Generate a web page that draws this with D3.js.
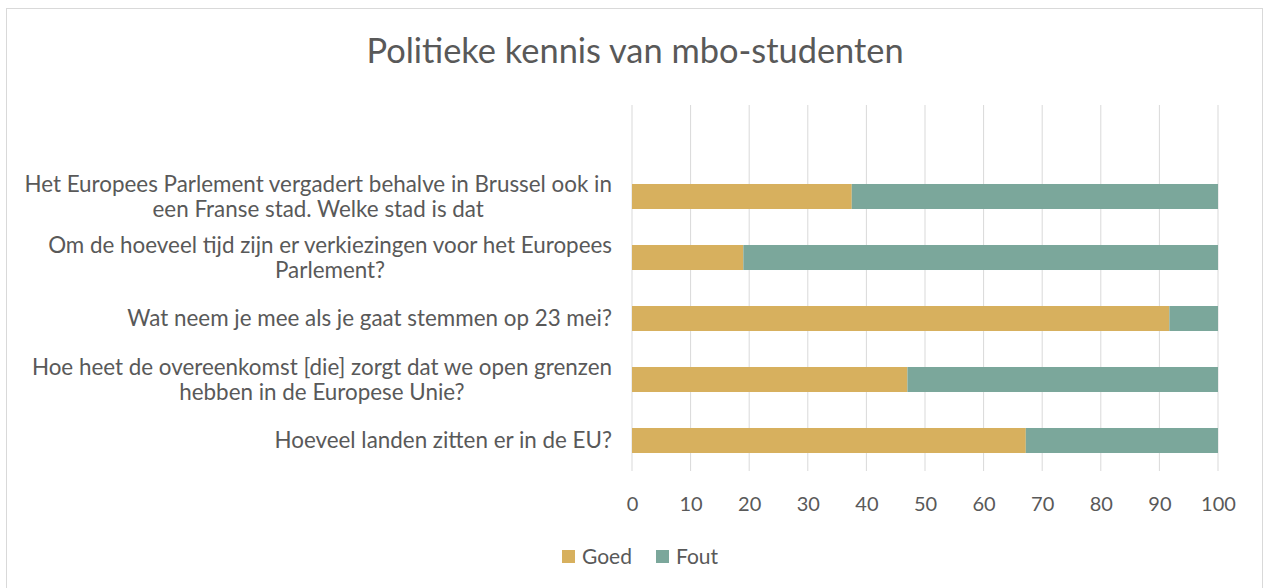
<!DOCTYPE html>
<html>
<head>
<meta charset="utf-8">
<script src="https://cdn.jsdelivr.net/npm/d3@7"></script>
<style>
  body { margin: 0; background: #fff; }
  text { font-family: Lato, "Open Sans", sans-serif; fill: #595959; }
</style>
</head>
<body>
<div id="chart"></div>
<script>
// data (top slot of the category axis is empty in the original)
var questions = [
    "",
    "Het Europees Parlement vergadert behalve in Brussel ook in een Franse stad. Welke stad is dat",
    "Om de hoeveel tijd zijn er verkiezingen voor het Europees Parlement?",
    "Wat neem je mee als je gaat stemmen op 23 mei?",
    "Hoe heet de overeenkomst [die] zorgt dat we open grenzen hebben in de Europese Unie?",
    "Hoeveel landen zitten er in de EU?"
];
var goed = [null, 37.5, 19, 91.7, 47, 67.2];
var fout = [null, 62.5, 81, 8.3, 53, 32.8];
var seriesNames = ["Goed", "Fout"];
var xTicks = [0, 10, 20, 30, 40, 50, 60, 70, 80, 90, 100];

var W = 1266, H = 588;
var colors = {Goed: "#d7b05e", Fout: "#7ba79b"};

var svg = d3.select("#chart").append("svg")
    .attr("width", W)
    .attr("height", H);

// chart border
svg.append("rect")
    .attr("x", 6.5).attr("y", 8.5)
    .attr("width", 1256).attr("height", 590)
    .attr("fill", "none")
    .attr("stroke", "#d9d9d9");

svg.append("text")
    .attr("x", 635)
    .attr("y", 63)
    .attr("text-anchor", "middle")
    .style("font-size", "34.4px")
    .text("Politieke kennis van mbo-studenten");

var x = d3.scaleLinear().domain([0, 100]).range([632, 1218]);
var y = d3.scaleBand()
    .domain(questions.map(function (d, i) { return i; }))
    .range([105, 471])
    .paddingInner(0.59)
    .paddingOuter(0.295);

// gridlines
svg.append("g").selectAll("line")
    .data(xTicks)
    .enter().append("line")
    .attr("x1", function (d) { return x(d); })
    .attr("x2", function (d) { return x(d); })
    .attr("y1", 105)
    .attr("y2", 471)
    .attr("stroke", "#d9d9d9")
    .attr("stroke-width", 1);

// stacked bars
var rows = questions.map(function (q, i) {
    return {i: i, Goed: goed[i] || 0, Fout: fout[i] || 0};
});
var stack = d3.stack().keys(seriesNames)(rows);

svg.append("g").selectAll("g")
    .data(stack)
    .enter().append("g")
    .attr("fill", function (s) { return colors[s.key]; })
    .selectAll("rect")
    .data(function (s) { return s.filter(function (d) { return d[1] > d[0]; }); })
    .enter().append("rect")
    .attr("x", function (d) { return x(d[0]); })
    .attr("width", function (d) { return x(d[1]) - x(d[0]); })
    .attr("y", function (d) { return y(d.data.i); })
    .attr("height", y.bandwidth());

// x axis tick labels
var xAxis = svg.append("g")
    .attr("transform", "translate(0,471)")
    .call(d3.axisBottom(x).tickValues(xTicks).tickSize(0).tickPadding(0));
xAxis.select(".domain").remove();
xAxis.selectAll("text")
    .attr("y", 40)
    .attr("dy", 0)
    .style("font-size", "20px")
    .style("font-family", "Lato, sans-serif")
    .attr("fill", "#595959");

// category labels, wrapped, block right-aligned, lines centered
var labelSize = 22.4, lineH = 25, maxW = 605, rightEdge = 612;
var labels = svg.append("g");
questions.forEach(function (q, i) {
    if (!q) return;
    var g = labels.append("g");
    var words = q.split(" "), lines = [], cur = [];
    var probe = g.append("text").style("font-size", labelSize + "px");
    words.forEach(function (w) {
        cur.push(w);
        probe.text(cur.join(" "));
        if (probe.node().getComputedTextLength() > maxW && cur.length > 1) {
            cur.pop();
            lines.push(cur.join(" "));
            cur = [w];
        }
    });
    lines.push(cur.join(" "));
    var widths = lines.map(function (l) {
        probe.text(l);
        return probe.node().getComputedTextLength();
    });
    probe.remove();
    var blockW = d3.max(widths);
    var cx = rightEdge - blockW / 2;
    var cy = y(i) + y.bandwidth() / 2;
    lines.forEach(function (l, k) {
        g.append("text")
            .attr("x", cx)
            .attr("y", cy + (k - (lines.length - 1) / 2) * lineH)
            .attr("dy", "0.35em")
            .attr("text-anchor", "middle")
            .style("font-size", labelSize + "px")
            .text(l);
    });
});

// legend
var legend = svg.append("g").attr("transform", "translate(562,550)");
var legX = [0, 94];
seriesNames.forEach(function (s, k) {
    legend.append("rect")
        .attr("x", legX[k]).attr("y", 0)
        .attr("width", 13).attr("height", 13)
        .attr("fill", colors[s]);
    legend.append("text")
        .attr("x", legX[k] + 20)
        .attr("y", 6.5)
        .attr("dy", "0.35em")
        .style("font-size", "21px")
        .text(s);
});
</script>
</body>
</html>
